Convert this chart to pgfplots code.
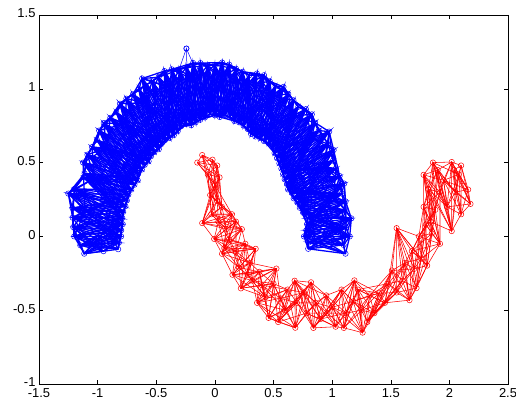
\documentclass[border=0pt]{standalone}
\usepackage{fontspec}
\setmainfont{Liberation Sans}
\usepackage{pgfplots}
\usepackage{pgfplotstable}
\pgfplotsset{compat=1.18}

% upper moon, points in arc order (outer / inner / middle)
\pgfplotstableread{
x y
1.114 -0.117
0.796 -0.084
0.799 -0.042
0.879 -0.046
1.098 -0.058
1.15 0
0.76 0
0.779 0.041
1.059 0.055
1.118 0.059
1.164 0.122
0.786 0.083
0.790 0.125
0.849 0.135
1.116 0.177
1.115 0.237
0.753 0.160
0.724 0.194
1.014 0.272
1.082 0.290
1.103 0.358
0.704 0.229
0.672 0.258
0.784 0.301
1.064 0.409
1.032 0.460
0.658 0.293
0.624 0.318
0.927 0.472
1.007 0.513
1.013 0.585
0.615 0.355
0.595 0.387
0.696 0.452
0.965 0.626
0.975 0.710
0.582 0.423
0.567 0.459
0.824 0.667
0.886 0.717
0.855 0.770
0.550 0.495
0.530 0.530
0.601 0.601
0.827 0.827
0.776 0.862
0.509 0.565
0.491 0.606
0.661 0.816
0.711 0.878
0.670 0.922
0.458 0.631
0.419 0.646
0.479 0.738
0.626 0.965
0.585 1.013
0.385 0.667
0.345 0.677
0.486 0.953
0.518 1.016
0.468 1.051
0.309 0.694
0.280 0.728
0.315 0.822
0.419 1.092
0.358 1.103
0.244 0.751
0.207 0.773
0.274 1.024
0.292 1.091
0.237 1.115
0.166 0.782
0.128 0.810
0.141 0.889
0.180 1.136
0.122 1.164
0.087 0.825
0.042 0.809
0.056 1.078
0.062 1.178
0 1.16
0 0.82
-0.043 0.829
-0.047 0.899
-0.061 1.158
-0.123 1.174
-0.085 0.806
-0.125 0.790
-0.167 1.057
-0.186 1.175
-0.243 1.144
-0.164 0.773
-0.202 0.753
-0.233 0.869
-0.303 1.130
-0.368 1.132
-0.247 0.761
-0.287 0.747
-0.387 1.008
-0.430 1.120
-0.480 1.078
-0.317 0.713
-0.350 0.686
-0.400 0.784
-0.536 1.051
-0.62 1.07
-0.385 0.667
-0.425 0.654
-0.588 0.906
-0.648 0.998
-0.699 0.963
-0.458 0.631
-0.478 0.591
-0.554 0.684
-0.755 0.933
-0.810 0.899
-0.515 0.572
-0.544 0.544
-0.764 0.764
-0.841 0.841
-0.892 0.803
-0.565 0.509
-0.598 0.485
-0.684 0.554
-0.948 0.768
-0.987 0.717
-0.623 0.453
-0.654 0.425
-0.923 0.599
-1.006 0.654
-1.048 0.605
-0.658 0.38
-0.686 0.350
-0.802 0.409
-1.087 0.554
-1.124 0.500
-0.713 0.317
-0.738 0.283
-1.027 0.394
-1.111 0.426
-1.12 0.40
-0.751 0.244
-0.763 0.204
-0.889 0.238
-1.198 0.321
-1.25 0.29
-0.782 0.166
-0.790 0.125
-1.106 0.175
-1.215 0.192
-1.213 0.127
-0.786 0.083
-0.799 0.042
-0.919 0.048
-1.208 0.063
-1.20 0
-0.80 0
-0.819 -0.043
-1.049 -0.055
-1.148 -0.060
-1.114 -0.117
-0.825 -0.087
-0.95 -0.10
}\bluepts

% lower moon, points in arc order
\pgfplotstableread{
x y
-0.15 0.50
-0.108 0.551
-0.02 0.52
0.02 0.48
-0.06 0.42
0.04 0.40
0.0 0.35
-0.04 0.28
0.02 0.24
0.06 0.20
-0.03 0.15
-0.108 0.09
0.146 0.150
0.03 0.10
0.10 0.05
0.18 0.10
0.23 0.049
-0.006 -0.017
0.12 -0.02
0.08 -0.08
0.061 -0.118
0.18 -0.10
0.26 -0.05
0.348 -0.084
0.205 -0.211
0.30 -0.18
0.15 -0.26
0.28 -0.26
0.222 -0.352
0.32 -0.30
0.38 -0.24
0.525 -0.218
0.432 -0.412
0.40 -0.33
0.50 -0.32
0.36 -0.45
0.458 -0.552
0.56 -0.42
0.62 -0.36
0.60 -0.50
0.54 -0.58
0.686 -0.619
0.70 -0.45
0.76 -0.38
0.68 -0.30
0.82 -0.311
0.78 -0.52
0.86 -0.45
0.84 -0.62
0.90 -0.56
0.95 -0.40
0.96 -0.52
1.03 -0.612
1.00 -0.48
1.08 -0.36
1.12 -0.52
1.10 -0.62
1.19 -0.298
1.18 -0.44
1.26 -0.652
1.25 -0.50
1.22 -0.36
1.32 -0.40
1.40 -0.385
1.36 -0.52
1.30 -0.58
1.45 -0.45
1.48 -0.32
1.51 -0.231
1.55 -0.38
1.60 -0.30
1.62 -0.18
1.66 -0.432
1.55 0.056
1.70 -0.22
1.72 -0.35
1.68 -0.10
1.76 -0.15
1.81 -0.198
1.74 0.00
1.80 0.08
1.85 0.02
1.92 -0.05
1.78 0.20
1.88 0.18
1.84 0.10
1.82 0.32
1.78 0.417
1.92 0.30
1.90 0.45
1.86 0.50
2.02 0.036
1.98 0.20
1.95 0.38
2.02 0.504
2.05 0.30
2.08 0.42
2.10 0.15
2.18 0.22
2.16 0.317
2.10 0.48
2.04 0.45
}\redpts

% edges i -- i+k for every i = r (mod k)
\newcount\mcnt
\newcommand{\meshlines}[4]{%
  \addplot[#1, no markers, x filter/.code={%
      \mcnt=\coordindex \divide\mcnt by #3 \multiply\mcnt by #3
      \advance\mcnt by -\coordindex \advance\mcnt by #4
      \ifnum\mcnt=0 \else\def\pgfmathresult{}\fi}] table {#2};}

\begin{document}
\begin{tikzpicture}
\begin{axis}[
    name=ax,
    scale only axis,
    width=469bp, height=369bp,
    xmin=-1.5, xmax=2.5, ymin=-1, ymax=1.5,
    xtick={-1.5,-1,-0.5,0,0.5,1,1.5,2,2.5},
    ytick={-1,-0.5,0,0.5,1,1.5},
    tick align=inside,
    major tick length=4bp,
    tick style={black, line width=0.5pt},
    axis line style={black, line width=0.5pt},
    ticklabel style={font=\fontsize{13}{15}\selectfont},
    xticklabel style={yshift=-3bp, inner sep=1bp},
    yticklabel style={yshift=1.5bp},
    /pgf/number format/assume math mode=true,
    bl/.style={blue, line width=1.3pt},
    rd/.style={red, line width=0.55pt},
]
\meshlines{bl}{\bluepts}{1}{0}
\meshlines{bl}{\bluepts}{2}{0}
\meshlines{bl}{\bluepts}{2}{1}
\meshlines{bl}{\bluepts}{3}{0}
\meshlines{bl}{\bluepts}{3}{1}
\meshlines{bl}{\bluepts}{3}{2}
\meshlines{bl}{\bluepts}{4}{0}
\meshlines{bl}{\bluepts}{4}{1}
\meshlines{bl}{\bluepts}{4}{2}
\meshlines{bl}{\bluepts}{4}{3}
\meshlines{bl}{\bluepts}{5}{0}
\meshlines{bl}{\bluepts}{5}{1}
\meshlines{bl}{\bluepts}{5}{2}
\meshlines{bl}{\bluepts}{5}{3}
\meshlines{bl}{\bluepts}{5}{4}
\meshlines{bl}{\bluepts}{6}{0}
\meshlines{bl}{\bluepts}{6}{1}
\meshlines{bl}{\bluepts}{6}{2}
\meshlines{bl}{\bluepts}{6}{3}
\meshlines{bl}{\bluepts}{6}{4}
\meshlines{bl}{\bluepts}{6}{5}
\meshlines{bl}{\bluepts}{7}{0}
\meshlines{bl}{\bluepts}{7}{1}
\meshlines{bl}{\bluepts}{7}{2}
\meshlines{bl}{\bluepts}{7}{3}
\meshlines{bl}{\bluepts}{7}{4}
\meshlines{bl}{\bluepts}{7}{5}
\meshlines{bl}{\bluepts}{7}{6}
\meshlines{bl}{\bluepts}{8}{0}
\meshlines{bl}{\bluepts}{8}{1}
\meshlines{bl}{\bluepts}{8}{2}
\meshlines{bl}{\bluepts}{8}{3}
\meshlines{bl}{\bluepts}{8}{4}
\meshlines{bl}{\bluepts}{8}{5}
\meshlines{bl}{\bluepts}{8}{6}
\meshlines{bl}{\bluepts}{8}{7}
\addplot[blue, line width=0.5pt, mark=o, mark size=2.6bp] coordinates {(-0.31,1.12) (-0.243,1.273) (-0.17,1.14) (-0.243,1.273) (-0.233,1.0)};
\addplot[only marks, blue, mark=o, mark size=2.7bp, mark options={line width=0.5pt}] table {\bluepts};

\meshlines{rd}{\redpts}{1}{0}
\meshlines{rd}{\redpts}{2}{0}
\meshlines{rd}{\redpts}{2}{1}
\meshlines{rd}{\redpts}{3}{0}
\meshlines{rd}{\redpts}{3}{1}
\meshlines{rd}{\redpts}{3}{2}
\meshlines{rd}{\redpts}{4}{0}
\meshlines{rd}{\redpts}{4}{1}
\meshlines{rd}{\redpts}{4}{2}
\meshlines{rd}{\redpts}{4}{3}
\meshlines{rd}{\redpts}{5}{0}
\meshlines{rd}{\redpts}{5}{1}
\meshlines{rd}{\redpts}{5}{2}
\meshlines{rd}{\redpts}{5}{3}
\meshlines{rd}{\redpts}{5}{4}
\meshlines{rd}{\redpts}{6}{0}
\meshlines{rd}{\redpts}{6}{1}
\meshlines{rd}{\redpts}{6}{2}
\meshlines{rd}{\redpts}{6}{3}
\meshlines{rd}{\redpts}{6}{4}
\meshlines{rd}{\redpts}{6}{5}
\addplot[only marks, red, mark=o, mark size=2.7bp, mark options={line width=0.5pt}] table {\redpts};
\end{axis}
\pgfresetboundingbox
\path ([shift={(-39bp,-17bp)}]ax.south west) rectangle ([shift={(8bp,15bp)}]ax.north east);
\end{tikzpicture}
\end{document}
